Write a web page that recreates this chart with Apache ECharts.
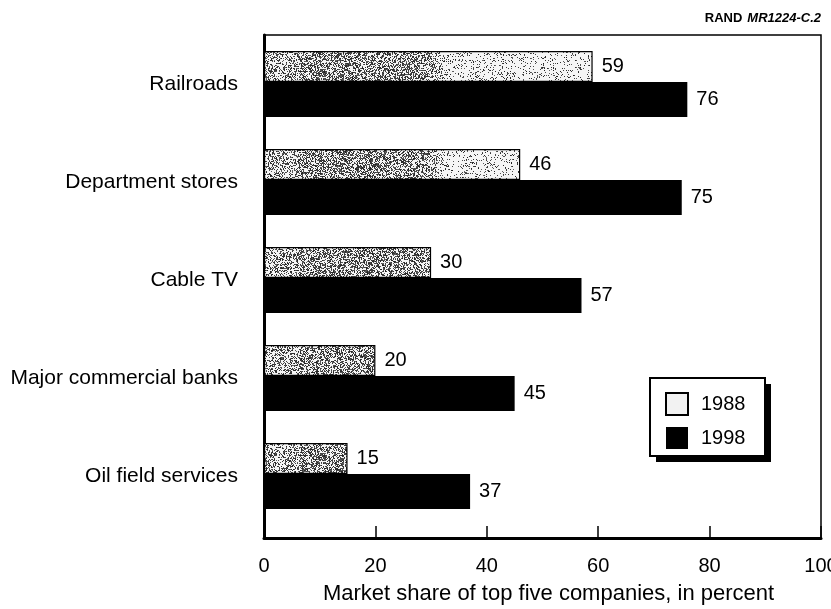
<!DOCTYPE html>
<html>
<head>
<meta charset="utf-8">
<script src="https://cdn.jsdelivr.net/npm/echarts@6/dist/echarts.min.js"></script>
<style>
  html, body { margin: 0; padding: 0; background: #fff; }
  #chart { width: 831px; height: 609px; }
</style>
</head>
<body>
<div id="chart"></div>
<script>
// Industry concentration: market share held by the top five companies
const categories = ['Railroads', 'Department stores', 'Cable TV', 'Major commercial banks', 'Oil field services'];
const share1988 = [59, 46, 30, 20, 15];
const share1998 = [76, 75, 57, 45, 37];
const xTicks = { min: 0, max: 100, interval: 20 };

const FONT = "'Liberation Sans', Arial, Helvetica, sans-serif";

// Halftone stipple texture for the 1988 bars (denser on the left, sparse further right)
function makeStipple() {
  const w = 831, h = 128;
  const c = document.createElement('canvas');
  c.width = w; c.height = h;
  const ctx = c.getContext('2d');
  const img = ctx.createImageData(w, h);
  let seed = 1234567;
  const rnd = () => { seed = (seed * 1103515245 + 12345) % 2147483648; return seed / 2147483648; };
  for (let y = 0; y < h; y++) {
    for (let x = 0; x < w; x++) {
      let d;
      if (x < 300) d = 0.38;
      else if (x < 420) d = 0.5;
      else if (x < 450) d = 0.5 - (x - 420) / 30 * 0.37;
      else d = 0.13;
      const i = (y * w + x) * 4;
      const dark = rnd() < d;
      const v = dark ? 30 + Math.floor(rnd() * 70) : 245;
      img.data[i] = v; img.data[i + 1] = v; img.data[i + 2] = v; img.data[i + 3] = 255;
    }
  }
  ctx.putImageData(img, 0, 0);
  return c;
}
const stipple = makeStipple();

const chart = echarts.init(document.getElementById('chart'), null, { renderer: 'canvas' });

chart.setOption({
  animation: false,
  backgroundColor: '#fff',
  textStyle: { fontFamily: FONT, color: '#000' },
  title: {
    right: 10, top: 9, padding: 0,
    text: '{b|RAND} {i|MR1224-C.2}',
    textStyle: {
      rich: {
        b: { fontFamily: FONT, fontWeight: 'bold', fontSize: 13, color: '#000' },
        i: { fontFamily: FONT, fontStyle: 'italic', fontSize: 13, color: '#000' }
      }
    }
  },
  // Legend frame with a hard drop shadow
  graphic: [
    { type: 'rect', z: 1, shape: { x: 656, y: 384, width: 115, height: 78 }, style: { fill: '#000' } },
    { type: 'rect', z: 2, shape: { x: 650, y: 378, width: 115, height: 78 }, style: { fill: '#fff', stroke: '#000', lineWidth: 2 } }
  ],
  legend: {
    orient: 'vertical',
    left: 665, top: 392, z: 5,
    padding: 0,
    itemWidth: 22, itemHeight: 22, itemGap: 11,
    selectedMode: false,
    textStyle: { fontFamily: FONT, fontSize: 20, color: '#000', padding: [0, 0, 0, 8] },
    data: [
      { name: '1988', icon: 'rect', itemStyle: { color: '#f2f2f2', borderColor: '#000', borderWidth: 2 } },
      { name: '1998', icon: 'rect', itemStyle: { color: '#000' } }
    ]
  },
  grid: [
    { left: 264, right: 10, top: 35, bottom: 71, outerBoundsMode: 'none', containLabel: false,
      show: true, borderColor: '#000', borderWidth: 1.5, backgroundColor: 'transparent' },
    { left: 264, right: 10, top: 35, height: 490, outerBoundsMode: 'none', containLabel: false }
  ],
  xAxis: [
    {
      gridIndex: 0, type: 'value',
      min: xTicks.min, max: xTicks.max, interval: xTicks.interval,
      axisLine: { show: true, lineStyle: { color: '#000', width: 3 } },
      axisTick: { show: true, inside: true, length: 12, lineStyle: { color: '#000', width: 1.5 } },
      axisLabel: { fontFamily: FONT, fontSize: 20, color: '#000', margin: 18 },
      splitLine: { show: false },
      name: 'Market share of top five companies, in percent',
      nameLocation: 'middle', nameGap: 45, nameMoveOverlap: false,
      nameTextStyle: { fontFamily: FONT, fontSize: 22, color: '#000', padding: [0, 0, 0, 12] }
    },
    { gridIndex: 1, type: 'value', min: xTicks.min, max: xTicks.max, show: false }
  ],
  yAxis: [
    {
      gridIndex: 0, type: 'value', min: 0, max: 1,
      axisLine: { show: true, lineStyle: { color: '#000', width: 3 } },
      axisTick: { show: false }, axisLabel: { show: false }, splitLine: { show: false }
    },
    {
      gridIndex: 1, type: 'category', inverse: true, data: categories,
      axisLine: { show: false }, axisTick: { show: false },
      axisLabel: { fontFamily: FONT, fontSize: 21, color: '#000', margin: 26 }
    }
  ],
  series: [
    {
      name: '1988', type: 'bar', xAxisIndex: 1, yAxisIndex: 1,
      data: share1988, barWidth: 31, barGap: '0%',
      itemStyle: { color: { image: stipple, repeat: 'repeat' }, borderColor: '#000', borderWidth: 1.2 },
      label: { show: true, position: 'right', distance: 9, fontFamily: FONT, fontSize: 20, color: '#000' }
    },
    {
      name: '1998', type: 'bar', xAxisIndex: 1, yAxisIndex: 1,
      data: share1998, barWidth: 35, barGap: '0%',
      itemStyle: { color: '#000' },
      label: { show: true, position: 'right', distance: 9, fontFamily: FONT, fontSize: 20, color: '#000' }
    }
  ]
});
</script>
</body>
</html>
